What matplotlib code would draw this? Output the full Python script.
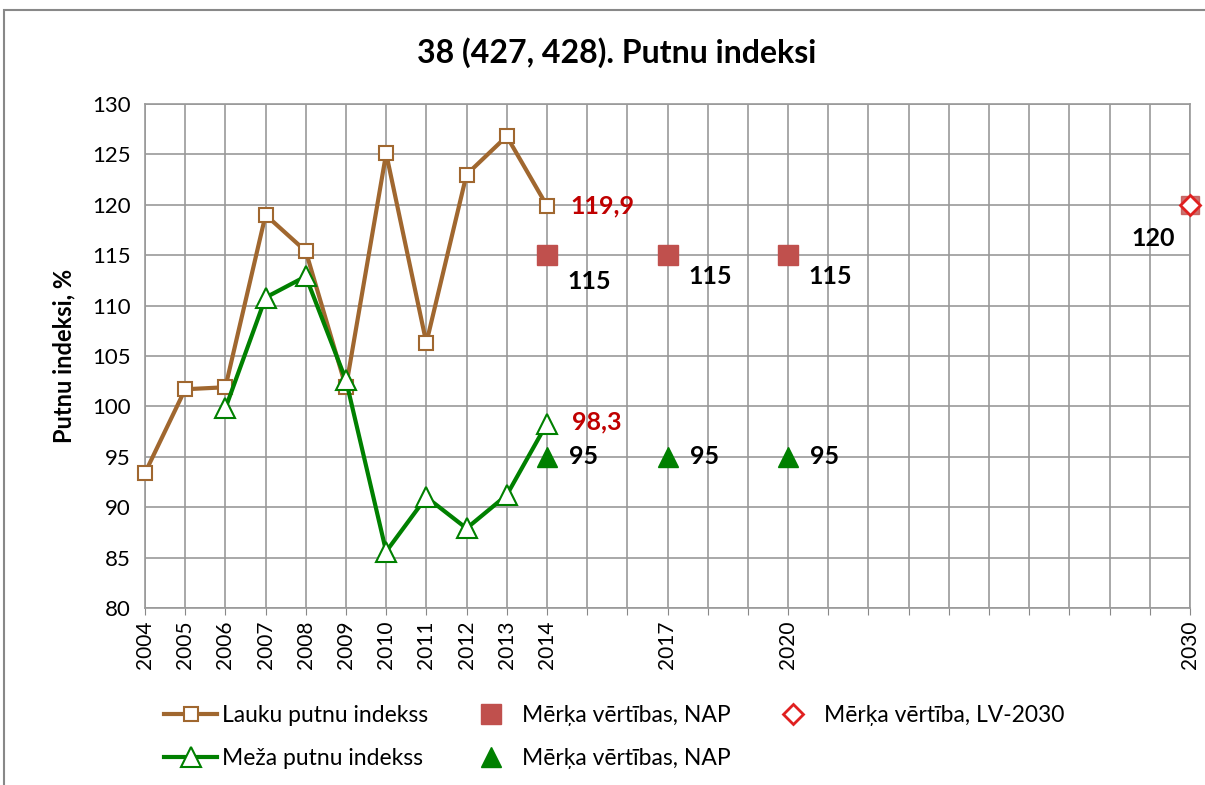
import matplotlib
matplotlib.use("Agg")
from matplotlib import pyplot as plt
from matplotlib.patches import Rectangle

plt.rcParams['font.family'] = ['Lato', 'DejaVu Sans']

years_lauku = [2004, 2005, 2006, 2007, 2008, 2009, 2010, 2011, 2012, 2013, 2014]
lauku = [93.4, 101.7, 101.9, 119.0, 115.4, 101.9, 125.1, 106.3, 123.0, 126.8, 119.9]
years_meza = [2006, 2007, 2008, 2009, 2010, 2011, 2012, 2013, 2014]
meza = [99.8, 110.8, 112.9, 102.6, 85.6, 91.0, 87.9, 91.2, 98.3]
nap_years = [2014, 2017, 2020]
nap_lauku = [115, 115, 115]
nap_meza = [95, 95, 95]
lv_year = [2030]
lv_value = [120]
tick_years = [2004, 2005, 2006, 2007, 2008, 2009, 2010, 2011, 2012, 2013, 2014, 2017, 2020, 2030]

brown = '#A0672F'
green = '#008000'
red_sq = '#C0504D'
red_txt = '#C00000'

fig = plt.figure(figsize=(12.05, 7.85), dpi=100)
fig.patches.append(Rectangle((4 / 1205, -0.01), 1.2, 1 - 10 / 785 + 0.01, transform=fig.transFigure,
                             fill=False, edgecolor='#888888', linewidth=1.5))
ax = fig.add_axes([145 / 1205, 1 - 608 / 785, (1190 - 145) / 1205, (608 - 104) / 785])

ax.plot(years_lauku, lauku, color=brown, lw=3, marker='s', ms=10, mfc='white', mec=brown, mew=1.5,
        label='Lauku putnu indekss', zorder=4, clip_on=False)
ax.plot(years_meza, meza, color=green, lw=3, marker='^', ms=15, mfc='white', mec=green, mew=1.5,
        label='Meža putnu indekss', zorder=4, clip_on=False)
ax.plot(nap_years, nap_lauku, ls='none', marker='s', ms=14, color=red_sq,
        label='Mērķa vērtības, NAP', zorder=5, clip_on=False)
ax.plot(lv_year, lv_value, ls='none', marker='s', ms=13, color=red_sq, alpha=0.8, zorder=5, clip_on=False)
ax.plot(nap_years, nap_meza, ls='none', marker='^', ms=14, color=green,
        label='Mērķa vērtības, NAP ', zorder=5, clip_on=False)
ax.plot(lv_year, lv_value, ls='none', marker='D', ms=10, mfc='white', mec='#E02020', mew=2,
        label='Mērķa vērtība, LV-2030', zorder=6, clip_on=False)

# value labels
ax.annotate('119,9', (years_lauku[-1], lauku[-1]), xytext=(17, 0), textcoords='offset points',
            color=red_txt, fontsize=18, fontweight='bold', va='center')
ax.annotate('98,3', (years_meza[-1], meza[-1]), xytext=(18, 1), textcoords='offset points',
            color=red_txt, fontsize=18, fontweight='bold', va='center')
for i, (x, y) in enumerate(zip(nap_years, nap_lauku)):
    dy = -19 if i == 0 else -15
    ax.annotate(str(y), (x, y), xytext=(15, dy), textcoords='offset points',
                fontsize=18, fontweight='bold', va='center')
for x, y in zip(nap_years, nap_meza):
    ax.annotate(str(y), (x, y), xytext=(16, 0), textcoords='offset points',
                fontsize=18, fontweight='bold', va='center')
ax.annotate(str(lv_value[0]), (lv_year[0], lv_value[0]), xytext=(-11, -24), textcoords='offset points',
            fontsize=18, fontweight='bold', va='center', ha='right')

ax.set_xlim(2004, 2030)
ax.set_ylim(80, 130)
ax.set_yticks(range(80, 131, 5))
ax.set_xticks(range(2004, 2031))
ax.set_xticklabels([str(y) if y in tick_years else '' for y in range(2004, 2031)], rotation=90)
ax.tick_params(axis='x', labelsize=15, length=5, color='#888888', pad=4)
ax.tick_params(axis='y', labelsize=16, length=0, pad=10)
ax.grid(True, color='#999999', lw=1.2)
ax.set_axisbelow(True)
for s in ax.spines.values():
    s.set_color('#999999')
    s.set_linewidth(1.2)

ax.set_ylabel('Putnu indeksi, %', fontsize=17, fontweight='bold', labelpad=12)
fig.text(0.512, 1 - 53 / 785, '38 (427, 428). Putnu indeksi', ha='center', va='center',
         fontsize=23, fontweight='bold')

h, l = ax.get_legend_handles_labels()
order = [0, 1, 2, 3, 4]
fig.legend([h[i] for i in order], [l[i].strip() for i in order], ncol=3, frameon=False,
           loc='center', bbox_to_anchor=(0.51, 1 - 737 / 785), fontsize=16.5,
           columnspacing=1.6, handlelength=2.3, handletextpad=0.2, labelspacing=1.0)

fig.savefig('out.png', dpi=100)
